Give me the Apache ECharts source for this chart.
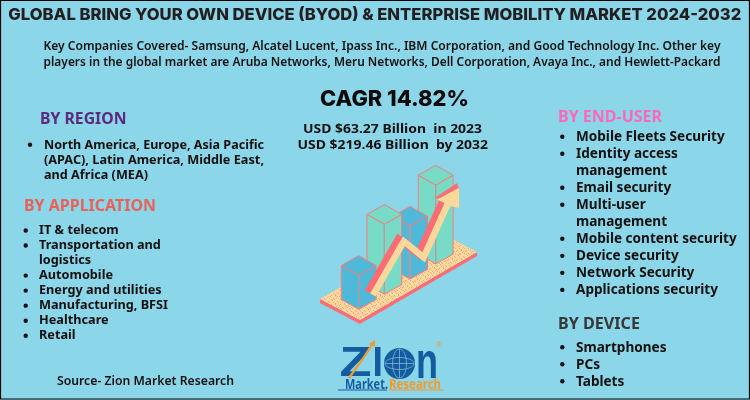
<!DOCTYPE html>
<html><head><meta charset="utf-8">
<style>html,body{margin:0;padding:0;background:#8bd6e8;overflow:hidden}#c{width:750px;height:400px}</style>
<script src="https://cdn.jsdelivr.net/npm/echarts@6/dist/echarts.min.js"></script>
</head><body><div id="c"></div>
<script>
const titleText = 'GLOBAL BRING YOUR OWN DEVICE (BYOD) & ENTERPRISE MOBILITY MARKET 2024-2032';
const companyLines = ['Key Companies Covered- Samsung, Alcatel Lucent, Ipass Inc., IBM Corporation, and Good Technology Inc. Other key',
  'players in the global market are Aruba Networks, Meru Networks, Dell Corporation, Avaya Inc., and Hewlett-Packard'];
const cagrText = 'CAGR 14.82%';
const usdLines = ['USD $63.27 Billion  in 2023', 'USD $219.46 Billion  by 2032'];
const regionLines = ['North America, Europe, Asia Pacific', '(APAC), Latin America, Middle East,', 'and Africa (MEA)'];
const applicationLines = ['IT & telecom', 'Transportation and', 'logistics', 'Automobile', 'Energy and utilities', 'Manufacturing, BFSI', 'Healthcare', 'Retail'];
const applicationBullets = [0, 1, 3, 4, 5, 6, 7];
const endUserLines = ['Mobile Fleets Security', 'Identity access', 'management', 'Email security', 'Multi-user', 'management', 'Mobile content security', 'Device security', 'Network Security', 'Applications security'];
const endUserBullets = [0, 1, 3, 4, 6, 7, 8, 9];
const deviceLines = ['Smartphones', 'PCs', 'Tablets'];
const sourceText = 'Source- Zion Market Research';
// illustration values, in the hidden axes' units
const barHeights = [34, 70, 53, 79];
const trendLine = [[0.557, 14.3], [1.757, 68], [2.53, 52], [3.55, 110]];
const arrowHead = [[3.05, 109.8], [3.91, 121.3], [3.91, 101.3], [3.6, 103]];
const arrowHeadBand = [[3.01, 112.3], [3.82, 126], [3.91, 121.3], [3.05, 109.8]];
const platform = [[-1.51, 10.3], [0.05, -10.7], [4.61, 57.3], [3.05, 78.3]];

const BODY = '"Noto Sans"', HEAD = 'Inter';
const meas = document.createElement('canvas').getContext('2d');
function fontOf(o) { return (o.weight || 700) + ' ' + (o.size || 13) + 'px ' + (o.family || BODY); }
function scaleFor(ref, o, w) { meas.font = fontOf(o); return w / meas.measureText(ref).width; }
function T(text, x, y, o) {
  o = o || {};
  const sx = o.width ? scaleFor(text, o, o.width) : (o.sx || 1);
  return { type: 'text', x: x, y: y, scaleX: sx, silent: true, z: 10,
    style: { text: text, x: 0, y: 0, font: fontOf(o), fill: o.color || '#111', textAlign: 'left', textVerticalAlign: 'middle' } };
}
function dot(x, y, r) {
  return { type: 'circle', shape: { cx: x, cy: y, r: r || 2.2 }, silent: true, z: 10, style: { fill: '#111' } };
}
const g = [];
g.push(T(titleText, 8.3, 15.5, { family: HEAD, weight: 800, size: 16.5, width: 733, color: '#231f20' }));
companyLines.forEach((s, i) => g.push(T(s, 43.5, 46 + i * 16, { size: 12.5, weight: 600, width: 677 })));
g.push(T(cagrText, 320, 100, { family: HEAD, weight: 800, size: 21.5, width: 149, color: '#0a0a0a' }));
g.push(T(usdLines[0], 303, 129.5, { size: 13, width: 179 }));
g.push(T(usdLines[1], 297.5, 145.5, { size: 13, width: 190.5 }));
g.push(T('BY REGION', 40, 119, { size: 16, width: 86.5, color: '#5c2a7e' }));
regionLines.forEach((s, i) => {
  g.push(T(s, 44, 145.2 + i * 15, { size: 12.5, width: i < 2 ? 220 : 104 }));
});
g.push(dot(30, 144.7));
g.push(T('BY APPLICATION', 24, 206.2, { size: 16, width: 132, color: '#e8625a' }));
const appOpt = { size: 12.5 };
const appScale = scaleFor('Manufacturing, BFSI', appOpt, 129);
applicationLines.forEach((s, i) => {
  const y = 230.5 + i * 15.03;
  g.push(T(s, 39, y, { size: 12.5, sx: appScale }));
  if (applicationBullets.includes(i)) g.push(dot(25.7, y));
});
g.push(T(sourceText, 57, 381.2, { weight: 600, size: 12.5, width: 177 }));
g.push(T('BY END-USER', 558, 117.8, { size: 16, width: 104, color: '#ff69bb' }));
const rightOpt = { size: 14 };
const rightScale = scaleFor('Mobile content security', rightOpt, 160.7);
endUserLines.forEach((s, i) => {
  const y = 137.2 + i * 17.02;
  g.push(T(s, 576, y, { size: 14, sx: rightScale }));
  if (endUserBullets.includes(i)) g.push(dot(562.3, y - 0.5));
});
g.push(T('BY DEVICE', 558, 324.8, { size: 16, width: 82, color: '#383838' }));
deviceLines.forEach((s, i) => {
  const y = 347.8 + i * 17;
  g.push(T(s, 576, y, { size: 14, sx: rightScale }));
  g.push(dot(562.3, y - 0.5));
});
// logo
const LOGO = '#135c9f', ORANGE = '#f59a2b', FAM = '"Liberation Sans"';
g.push(T('Z', 339.5, 364.5, { family: FAM, size: 43, width: 32, color: LOGO }));
g.push(T('I', 372.5, 364.5, { family: FAM, size: 43, width: 10.5, color: LOGO }));
g.push(T('n', 416, 364.5, { family: FAM, size: 50, width: 22, color: LOGO }));
g.push({ type: 'circle', shape: { cx: 399.5, cy: 363.5, r: 15.5 }, silent: true, z: 10, style: { fill: LOGO } });
const gridStyle = { fill: 'none', stroke: '#8fc0dc', lineWidth: 0.7 };
g.push({ type: 'ellipse', shape: { cx: 399.5, cy: 363.5, rx: 7, ry: 14.5 }, silent: true, z: 11, style: gridStyle });
g.push({ type: 'ellipse', shape: { cx: 399.5, cy: 363.5, rx: 14.5, ry: 6 }, silent: true, z: 11, style: gridStyle });
g.push({ type: 'line', shape: { x1: 385, y1: 363.5, x2: 414, y2: 363.5 }, silent: true, z: 11, style: gridStyle });
g.push({ type: 'line', shape: { x1: 399.5, y1: 349, x2: 399.5, y2: 378 }, silent: true, z: 11, style: gridStyle });
g.push({ type: 'polyline', shape: { points: [[349, 378], [362, 360], [373, 343]] }, silent: true, z: 12, style: { fill: 'none', stroke: ORANGE, lineWidth: 2.2 } });
g.push({ type: 'polygon', shape: { points: [[369, 344], [375, 340], [375, 347]] }, silent: true, z: 12, style: { fill: ORANGE } });
g.push(T('®', 436, 344.5, { family: FAM, weight: 400, size: 8, color: ORANGE }));
g.push(T('Market.', 345, 384.7, { size: 13.5, width: 43, color: LOGO }));
g.push(T('Research', 389, 384.7, { size: 13.5, width: 52, color: ORANGE }));
g.push({ type: 'line', shape: { x1: 338, y1: 390, x2: 387, y2: 390 }, silent: true, z: 10, style: { stroke: LOGO, lineWidth: 1 } });
g.push({ type: 'line', shape: { x1: 389, y1: 390, x2: 444, y2: 390 }, silent: true, z: 10, style: { stroke: ORANGE, lineWidth: 1 } });
// frame
g.push({ type: 'rect', shape: { x: 0.5, y: 0.5, width: 749, height: 398.5 }, silent: true, z: 20, style: { fill: 'none', stroke: '#000', lineWidth: 1.2 } });

// speckled platform pattern (fixed tile)
const tile = document.createElement('canvas');
tile.width = 9; tile.height = 9;
const tc = tile.getContext('2d');
tc.fillStyle = '#fbd99b'; tc.fillRect(0, 0, 9, 9);
tc.fillStyle = '#f7a58c';
[[0, 1], [1, 2], [3, 0], [4, 4], [5, 5], [7, 2], [8, 3], [2, 6], [2, 7], [6, 8], [7, 7], [5, 1], [0, 5], [4, 8]].forEach(p => tc.fillRect(p[0], p[1], 1, 1));
const STROKE = '#fb7a7d', EDGE = '#b59ea2', PINK = '#ff6c73', CREAM = '#fdd89a';
const BLUE = '#4fb9d9', GREEN = '#78dbc5';
const SLOPE = 0.589, HW = 17.4, HD = 9.8;
function renderPlatform(params, api) {
  const pts = platform.map(p => api.coord(p));
  const th = 4;
  const front = [pts[0], pts[1], pts[2], [pts[2][0], pts[2][1] + th], [pts[1][0], pts[1][1] + th], [pts[0][0], pts[0][1] + th]];
  return { type: 'group', children: [
    { type: 'polygon', shape: { points: front }, style: { fill: PINK } },
    { type: 'polygon', shape: { points: pts }, style: { fill: { image: tile, repeat: 'repeat' } } }
  ] };
}
function renderBar(params, api) {
  const i = api.value(0), h = api.value(1);
  const origin = api.coord([0, 0]);
  const here = api.coord([i, 0]);
  const top = api.coord([i, h]);
  const rise = (here[0] - origin[0]) * SLOPE;
  const x = here[0], yb = here[1] - rise, yt = top[1] - rise;
  const col = (i % 2 === 0) ? BLUE : GREEN;
  const ln = { stroke: STROKE, lineWidth: 1, lineJoin: 'round' };
  return { type: 'group', children: [
    { type: 'polygon', shape: { points: [[x - HW, yt - HD], [x, yt], [x, yb], [x - HW, yb - HD]] }, style: Object.assign({ fill: col }, ln) },
    { type: 'polygon', shape: { points: [[x, yt], [x + HW, yt - HD], [x + HW, yb - HD], [x, yb]] }, style: Object.assign({ fill: col }, ln) },
    { type: 'polygon', shape: { points: [[x - HW, yt - HD], [x, yt - 2 * HD], [x + HW, yt - HD], [x, yt]] }, style: Object.assign({ fill: col }, ln) },
    { type: 'line', shape: { x1: x, y1: yt, x2: x, y2: yb }, style: { stroke: EDGE, lineWidth: 1 } }
  ] };
}
function renderArrow(params, api) {
  const pts = trendLine.map(p => api.coord(p));
  const back = pts.map(p => [p[0] - 5.5, p[1] - 3]);
  return { type: 'group', children: [
    { type: 'polyline', shape: { points: back }, style: { fill: 'none', stroke: PINK, lineWidth: 6.5, lineJoin: 'miter' } },
    { type: 'polyline', shape: { points: pts }, style: { fill: 'none', stroke: CREAM, lineWidth: 6.5, lineJoin: 'miter' } },
    { type: 'polygon', shape: { points: arrowHeadBand.map(p => api.coord(p)) }, style: { fill: PINK } },
    { type: 'polygon', shape: { points: arrowHead.map(p => api.coord(p)) }, style: { fill: CREAM } }
  ] };
}
const chart = echarts.init(document.getElementById('c'), null, { width: 750, height: 400 });
chart.setOption({
  animation: false,
  backgroundColor: '#8bd6e8',
  grid: { left: 307.36, width: 179.69, top: 109.3, height: 220 },
  xAxis: { type: 'value', min: -2, max: 5, show: false },
  yAxis: { type: 'value', min: -20, max: 200, show: false },
  series: [
    { type: 'custom', clip: false, z: 1, animation: false, renderItem: renderPlatform, data: [[0, 0]] },
    { type: 'custom', clip: false, z: 2, animation: false, renderItem: renderBar, encode: { x: 0, y: 1 }, data: barHeights.map((h, i) => [i, h]).reverse() },
    { type: 'custom', clip: false, z: 3, animation: false, renderItem: renderArrow, data: [[0, 0]] }
  ],
  graphic: { elements: g }
});
</script></body></html>
